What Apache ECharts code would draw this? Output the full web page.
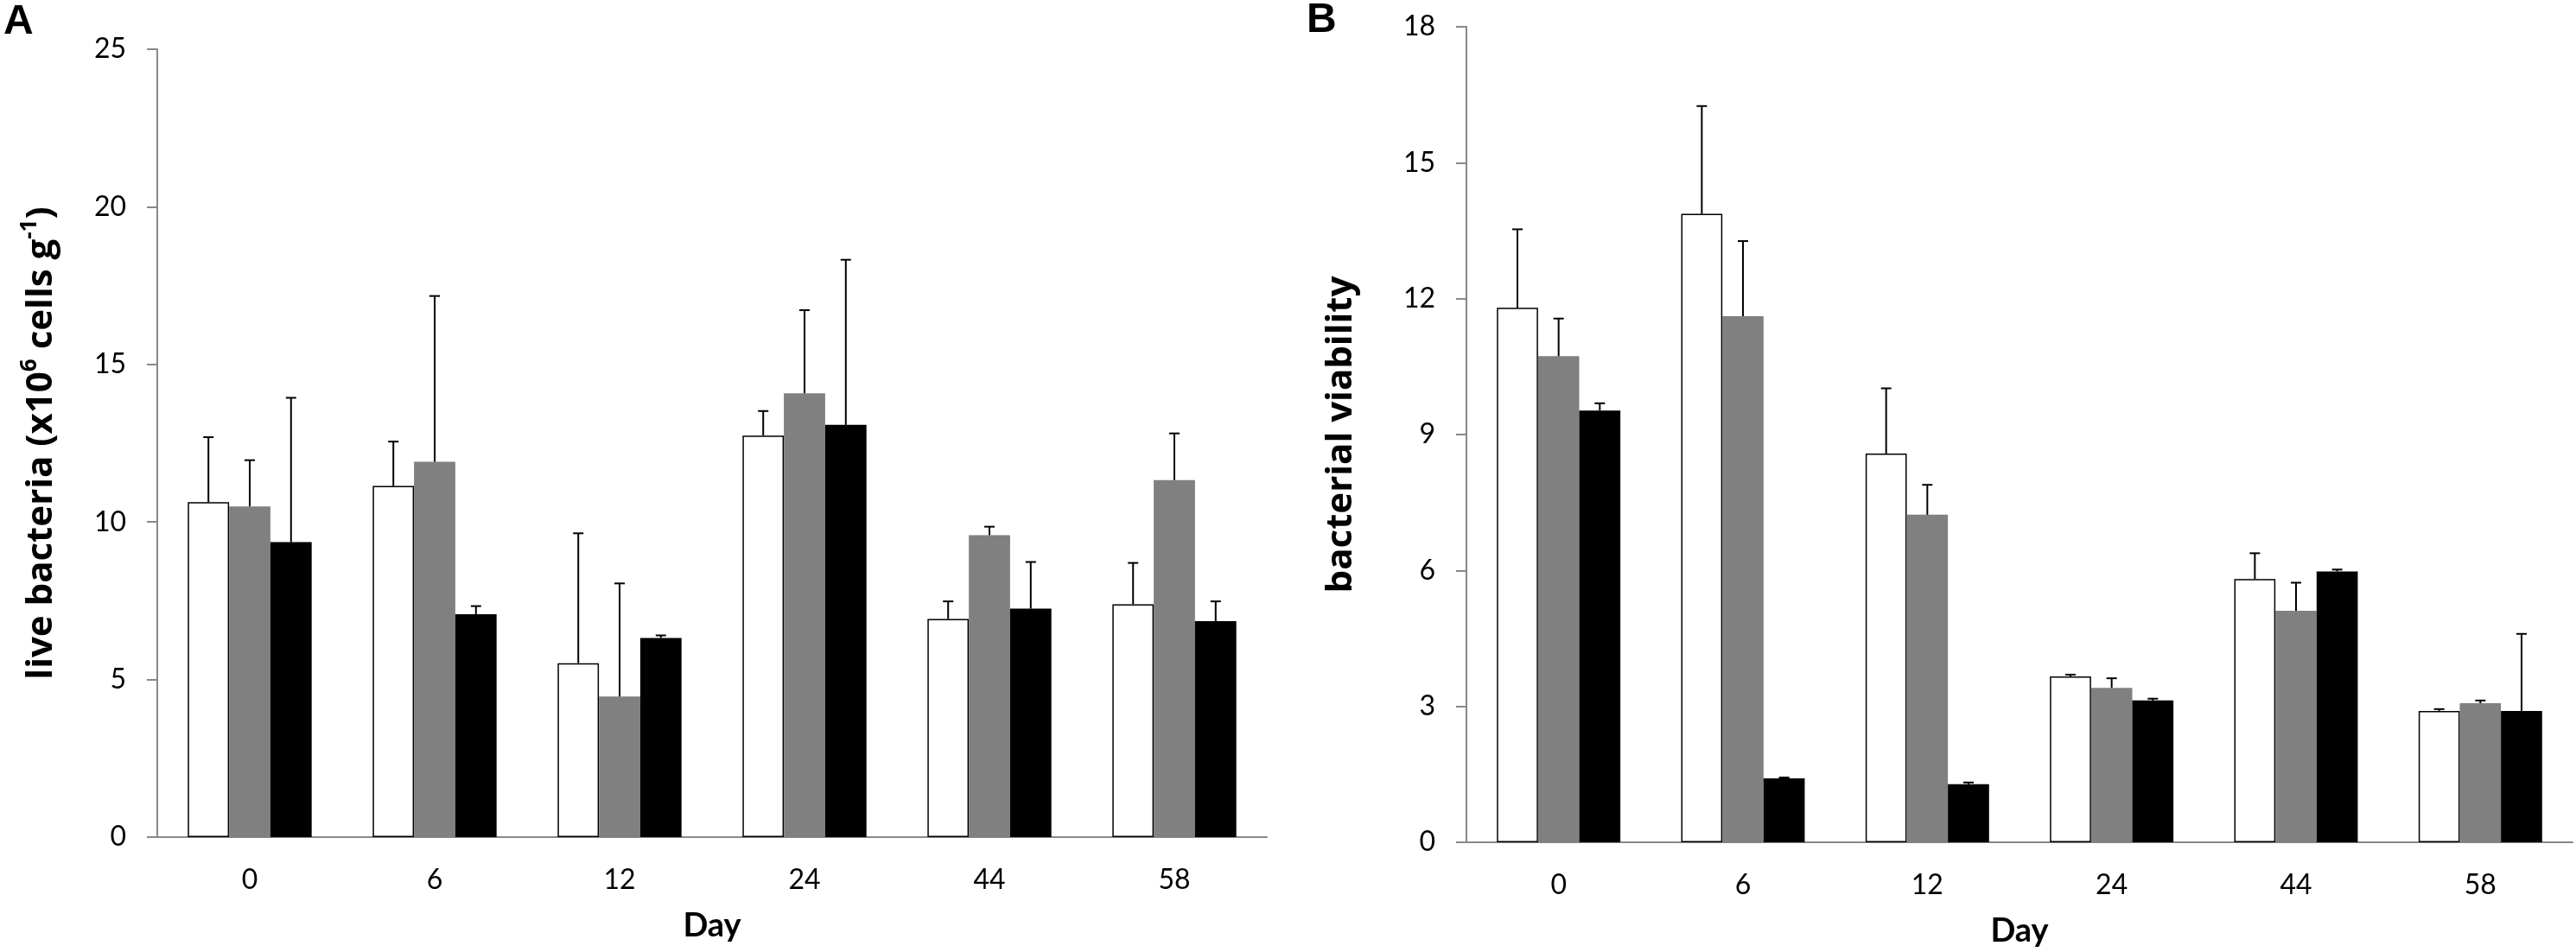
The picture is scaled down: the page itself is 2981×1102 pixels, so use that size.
<!DOCTYPE html>
<html>
<head>
<meta charset="utf-8">
<script src="https://cdn.jsdelivr.net/npm/echarts@6/dist/echarts.min.js"></script>
<style>
  html, body { margin: 0; padding: 0; background: #fff; }
  #chart { width: 2981px; height: 1102px; }
</style>
</head>
<body>
<div id="chart"></div>
<script>
// sampling days
var days = ['0', '6', '12', '24', '44', '58'];

// panel A: live bacteria (x10^6 cells g-1), mean and upper error
var liveWhite = [10.63, 11.14, 5.52, 12.74, 6.92, 7.39];
var liveWhiteErr = [2.06, 1.41, 4.12, 0.78, 0.56, 1.31];
var liveGray = [10.49, 11.91, 4.46, 14.08, 9.58, 11.33];
var liveGrayErr = [1.47, 5.26, 3.59, 2.64, 0.27, 1.48];
var liveBlack = [9.36, 7.07, 6.32, 13.08, 7.25, 6.85];
var liveBlackErr = [4.58, 0.26, 0.08, 5.24, 1.48, 0.63];

// panel B: bacterial viability
var viaWhite = [11.80, 13.87, 8.58, 3.66, 5.81, 2.90];
var viaWhiteErr = [1.73, 2.38, 1.44, 0.04, 0.57, 0.04];
var viaGray = [10.73, 11.61, 7.23, 3.41, 5.11, 3.07];
var viaGrayErr = [0.83, 1.66, 0.66, 0.21, 0.62, 0.06];
var viaBlack = [9.53, 1.41, 1.28, 3.13, 5.98, 2.90];
var viaBlackErr = [0.16, 0.02, 0.04, 0.04, 0.04, 1.70];

var FONT = 'Lato';
var TITLE_FONT = 'Open Sans';
var GAP = 0.33;   // barCategoryGap
var axisGray = '#888888';

var chart = echarts.init(document.getElementById('chart'));

function barSeries(name, data, color, gridIdx) {
    return {
        name: name,
        type: 'bar',
        xAxisIndex: gridIdx,
        yAxisIndex: gridIdx,
        data: data,
        barGap: '0%',
        barCategoryGap: '33%',
        itemStyle: {
            color: color,
            borderColor: '#000',
            borderWidth: color === '#ffffff' ? 1.5 : 0
        },
        silent: true
    };
}

// error bar drawn above each bar, slot = 0,1,2 (position inside the group)
function errSeries(means, errs, slot, gridIdx) {
    var rows = means.map(function (m, i) { return [i, m, errs[i]]; });
    return {
        type: 'custom',
        xAxisIndex: gridIdx,
        yAxisIndex: gridIdx,
        data: rows,
        encode: { x: 0, y: 1 },
        z: 5,
        silent: true,
        renderItem: function (params, api) {
            var i = api.value(0), m = api.value(1), e = api.value(2);
            var band = api.size([1, 0])[0];
            var barW = band * (1 - GAP) / 3;
            var p0 = api.coord([i, m]);
            var p1 = api.coord([i, m + e]);
            var x = p0[0] + (slot - 1) * barW;
            var st = { stroke: '#000', lineWidth: 2 };
            return {
                type: 'group',
                children: [
                    { type: 'line', shape: { x1: x, y1: p0[1], x2: x, y2: p1[1] }, style: st },
                    { type: 'line', shape: { x1: x - 6, y1: p1[1], x2: x + 6, y2: p1[1] }, style: st }
                ]
            };
        }
    };
}

function xAx(gridIdx) {
    return {
        type: 'category',
        gridIndex: gridIdx,
        data: days,
        name: 'Day',
        nameLocation: 'middle',
        nameGap: 84,
        nameTextStyle: { fontFamily: FONT, fontSize: 38, fontWeight: 'bold', color: '#000' },
        axisLine: { lineStyle: { color: axisGray, width: 2 } },
        axisTick: { length: 13, lineStyle: { color: axisGray, width: 2 } },
        axisLabel: { fontFamily: FONT, fontSize: 32, color: '#000', margin: 34 }
    };
}

function yAx(gridIdx, max, interval, name, gap) {
    return {
        type: 'value',
        gridIndex: gridIdx,
        min: 0,
        max: max,
        interval: interval,
        name: name,
        nameLocation: 'middle',
        nameGap: gap,
        nameRotate: 90,
        nameTextStyle: {
            fontFamily: TITLE_FONT, fontSize: 42, fontWeight: 'bold', color: '#000',
            rich: {
                b: { fontFamily: TITLE_FONT, fontSize: 42, fontWeight: 'bold', color: '#000', lineHeight: 52 },
                s: { fontFamily: TITLE_FONT, fontSize: 26, fontWeight: 'bold', color: '#000', lineHeight: 26, verticalAlign: 'top' }
            }
        },
        splitLine: { show: false },
        axisLine: { show: true, lineStyle: { color: axisGray, width: 2 } },
        axisTick: { show: true, length: 12, lineStyle: { color: axisGray, width: 2 } },
        axisLabel: { fontFamily: FONT, fontSize: 32, color: '#000', margin: 36 }
    };
}

var option = {
    animation: false,
    backgroundColor: '#fff',
    grid: [
        { left: 182, width: 1284, top: 57, height: 912 },
        { left: 1697, width: 1280, top: 31, height: 944 }
    ],
    xAxis: [xAx(0), xAx(1)],
    yAxis: [
        yAx(0, 25, 5, '{b|live bacteria (x10}{s|6}{b| cells g}{s|-1}{b|)}', 108),
        yAx(1, 18, 3, 'bacterial viability', 124)
    ],
    graphic: [
        { type: 'text', left: 4, top: 2, style: { text: 'A', fontFamily: 'Liberation Sans', fontWeight: 'bold', fontSize: 48, fill: '#000' } },
        { type: 'text', left: 1512, top: 0, style: { text: 'B', fontFamily: 'Liberation Sans', fontWeight: 'bold', fontSize: 48, fill: '#000' } }
    ],
    series: [
        barSeries('white', liveWhite, '#ffffff', 0),
        barSeries('gray', liveGray, '#808080', 0),
        barSeries('black', liveBlack, '#000000', 0),
        errSeries(liveWhite, liveWhiteErr, 0, 0),
        errSeries(liveGray, liveGrayErr, 1, 0),
        errSeries(liveBlack, liveBlackErr, 2, 0),
        barSeries('white', viaWhite, '#ffffff', 1),
        barSeries('gray', viaGray, '#808080', 1),
        barSeries('black', viaBlack, '#000000', 1),
        errSeries(viaWhite, viaWhiteErr, 0, 1),
        errSeries(viaGray, viaGrayErr, 1, 1),
        errSeries(viaBlack, viaBlackErr, 2, 1)
    ]
};
chart.setOption(option);
</script>
</body>
</html>
